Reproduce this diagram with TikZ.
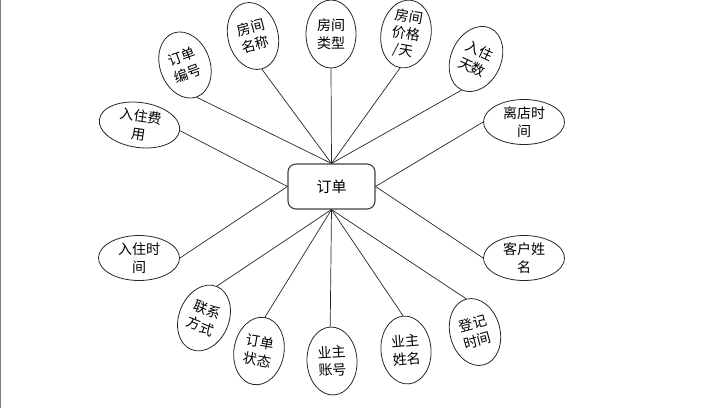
\documentclass[tikz,border=0pt]{standalone}
\usepackage{fontspec}
\newfontfamily\cjk{Noto Sans CJK SC}
\usetikzlibrary{shapes.geometric}
\begin{document}
\begin{tikzpicture}[x=1pt,y=1pt,
  attr/.style={ellipse,draw=black!85,line width=0.8pt,inner sep=0pt,
    minimum width=50pt,minimum height=68pt,align=center,
    font=\cjk\fontsize{14}{18}\selectfont},
  hattr/.style={attr,minimum width=81pt,minimum height=45pt},
  ent/.style={rectangle,rounded corners=8pt,draw=black!75,line width=1.1pt,
    minimum width=87pt,minimum height=45pt,font=\cjk\fontsize{15}{18}\selectfont},
  link/.style={draw=black!85,line width=0.7pt}]
\useasboundingbox (0,0) rectangle (705,-408);
\draw[black!50,line width=1pt] (0.5,0) -- (0.5,-408);

\node[ent] (o) at (331.5,-186.5) {订单};

\node[hattr,rotate=-8] (e1) at (139.5,-125) {入住费\\用};
\node[attr,rotate=20] (e2) at (185,-65) {订单\\编号};
\node[attr,rotate=15] (e3) at (253,-36) {房间\\名称};
\node[attr] (e4) at (331,-34) {房间\\类型};
\node[attr,rotate=-10,font=\cjk\fontsize{14}{17}\selectfont] (e5) at (406,-34) {房间\\价格\\/天};
\node[attr,rotate=-25] (e6) at (476,-59) {入住\\天数};
\node[hattr] (e7) at (524,-122) {离店时\\间};
\node[hattr] (e8) at (524,-258) {客户姓\\名};
\node[attr,rotate=15] (e9) at (475,-332) {登记\\时间};
\node[attr,rotate=5] (e10) at (406,-350) {业主\\姓名};
\node[attr,rotate=3] (e11) at (332,-361) {业主\\账号};
\node[attr,rotate=-10] (e12) at (259,-351) {订单\\状态};
\node[attr,rotate=-22] (e13) at (204,-318) {联系\\方式};
\node[hattr] (e14) at (139,-258) {入住时\\间};

\draw[link] (o.west) -- (e1.east);
\draw[link] (o.north) -- (e2.south);
\draw[link] (o.north) -- (e3.south);
\draw[link] (o.north) -- (e4.south);
\draw[link] (o.north) -- (e5.south);
\draw[link] (o.north) -- (e6.south);
\draw[link] (o.east) -- (e7.west);
\draw[link] (o.east) -- (e8.west);
\draw[link] (o.south) -- (e9.north);
\draw[link] (o.south) -- (e10.north);
\draw[link] (o.south) -- (e11.north);
\draw[link] (o.south) -- (e12.north);
\draw[link] (o.south) -- (e13.north);
\draw[link] (o.west) -- (e14.east);
\end{tikzpicture}
\end{document}
